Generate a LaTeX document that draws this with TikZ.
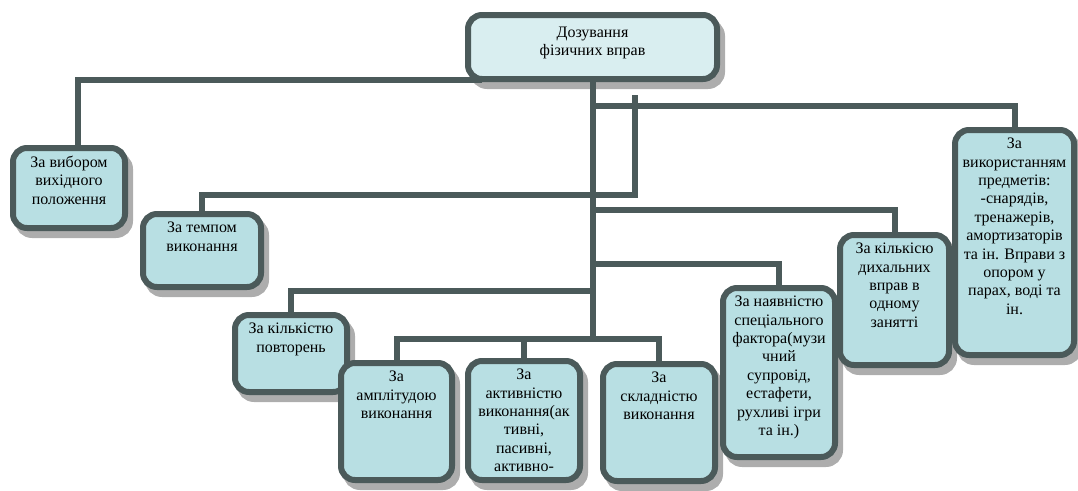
\documentclass[tikz,border=0pt]{standalone}
\usepackage{fontspec}
\setmainfont{Liberation Serif}
\usetikzlibrary{shadows}
\definecolor{linegray}{HTML}{4B5A5A}
\definecolor{critfill}{HTML}{B8DFE3}
\definecolor{dosefill}{HTML}{D9EEF0}
\tikzstyle{crit} = [draw=linegray,line width=6pt,rounded corners=14pt,fill=critfill,outer sep=0pt,
    inner xsep=4pt,inner ysep=8pt,anchor=north west,font=\fontsize{16}{18.4}\selectfont,
    drop shadow={shadow xshift=5pt,shadow yshift=-7pt,opacity=1,fill=black!32,draw=black!32,line width=6pt}
]
\tikzstyle{link} = [draw=linegray,line width=6pt]
\newcommand{\critnode}[6]{
	\node(#1) at (#2,#3) [crit] {\parbox[t][\dimexpr#5pt-16pt\relax][t]{\dimexpr#4pt-8pt\relax}{\centering #6}};
}

\begin{document}
\begin{tikzpicture}[x=1pt,y=-1pt]
	\useasboundingbox (0,0) rectangle (1078,490);

	\node(dose) at (468,15) [crit,fill=dosefill,inner ysep=12pt] {\parbox[t][40pt][t]{241pt}{\centering Дозування\\фізичних вправ}};

	\critnode{factor1}{13}{148}{112}{80}{За вибором\\вихідного\\положення};
	\critnode{factor2}{143}{214}{118}{73}{За темпом\\виконання};
	\critnode{factor3}{235}{315}{112}{77}{За кількістю\\повторень};
	\critnode{factor4}{341}{363}{111}{117}{За\\амплітудою\\виконання};
	\critnode{factor5}{468}{361}{112}{119}{За\\активністю\\виконання(ак\\тивні,\\пасивні,\\активно-};
	\critnode{factor6}{603}{364}{112}{117}{За\\складністю\\виконання};
	\critnode{factor7}{723}{288}{112}{169}{За наявністю\\спеціального\\фактора(музи\\чний\\супровід,\\естафети,\\рухливі ігри\\та ін.)};
	\critnode{factor8}{840}{235}{109}{130}{За кількісю\\дихальних\\вправ в\\одному\\занятті};
	\critnode{factor9}{955}{130}{119}{225}{За\\використанням\\предметів:\\ -снарядів,\\тренажерів,\\амортизаторів\\та ін. Вправи з\\опором у\\парах, воді та\\ін.};

	\coordinate(jB) at ([xshift=42pt,yshift=-16pt]dose.south);
	\coordinate(jC) at ([yshift=-27pt]dose.south);
	\coordinate(jD) at ([yshift=-131pt]dose.south);
	\coordinate(jE) at ([yshift=-185pt]dose.south);
	\coordinate(jF) at ([yshift=-212pt]dose.south);
	\coordinate(hub) at ([yshift=-260pt]dose.south);

	\draw[link] ([xshift=14pt,yshift=-1pt]dose.south west) -| ([xshift=9pt]factor1.north);
	\draw[link] (dose.south) -- (hub);
	\draw[link] (jB) -- ++(0,100) -| (factor2.north);
	\draw[link] (jC) -| (factor9.north);
	\draw[link] (jD) -| (factor8.north);
	\draw[link] (jE) -| (factor7.north);
	\draw[link] (jF) -| (factor3.north);
	\draw[link] (factor4.north) |- (hub) -| (factor6.north);
	\draw[link] (factor5.north) -- (factor5.north |- hub);
\end{tikzpicture}
\end{document}
